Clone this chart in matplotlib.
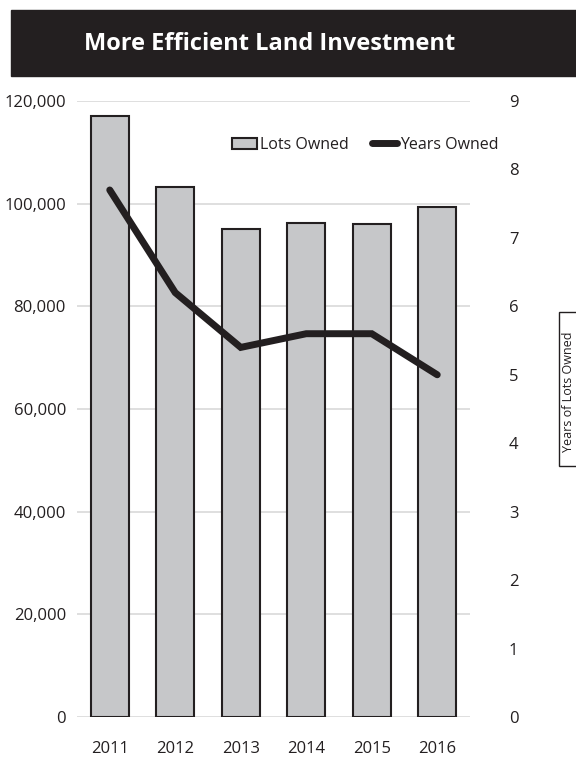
import matplotlib.pyplot as plt
from matplotlib.ticker import FuncFormatter, MultipleLocator
from matplotlib.patches import Rectangle

years = ["2011", "2012", "2013", "2014", "2015", "2016"]
lots_owned = [117000, 103200, 95000, 96200, 96000, 99300]
years_owned = [7.7, 6.2, 5.4, 5.6, 5.6, 5.0]

plt.rcParams["font.family"] = ["Open Sans", "DejaVu Sans"]
text_color = "#231f20"
W, H = 576, 765

fig = plt.figure(figsize=(5.76, 7.65), dpi=100)

# title banner
fig.patches.append(Rectangle((11 / W, 1 - 76 / H), 1, 66 / H,
                             transform=fig.transFigure, color="#231f20", zorder=0))
fig.text(270 / W, 1 - 44 / H, "More Efficient Land Investment", color="white",
         fontsize=17, fontweight="bold", ha="center", va="center")

ax = fig.add_axes([77 / W, 1 - 717 / H, 393 / W, 616 / H])
x = range(len(years))
bars = ax.bar(x, lots_owned, width=0.58, color="#c6c7c9", edgecolor="#231f20",
              linewidth=1.5, label="Lots Owned", zorder=2)
ax.set_xlim(-0.5, len(years) - 0.5)
ax.set_ylim(0, 120000)
ax.yaxis.set_major_locator(MultipleLocator(20000))
ax.yaxis.set_major_formatter(FuncFormatter(lambda v, p: f"{v:,.0f}"))
ax.set_xticks(list(x))
ax.set_xticklabels(years)
ax.grid(axis="y", color="#d9d9d9", linewidth=1.2, zorder=0)
ax.set_axisbelow(True)
for s in ax.spines.values():
    s.set_visible(False)
ax.tick_params(length=0, labelsize=12, colors=text_color, pad=17)
ax.tick_params(axis="y", pad=8)

ax2 = ax.twinx()
line, = ax2.plot(x, years_owned, color="#231f20", linewidth=5,
                 solid_capstyle="round", solid_joinstyle="miter", label="Years Owned")
ax2.set_ylim(0, 9)
ax2.yaxis.set_major_locator(MultipleLocator(1))
for s in ax2.spines.values():
    s.set_visible(False)
ax2.tick_params(length=0, labelsize=12, colors=text_color, pad=28)

ax2.legend([bars, line], ["Lots Owned", "Years Owned"], ncol=2, frameon=False,
           loc="upper right", bbox_to_anchor=(1.11, 0.965), fontsize=11.5,
           handlelength=1.6, handletextpad=0.2, columnspacing=1.4,
           labelcolor=text_color)

# boxed label running off the right edge
fig.patches.append(Rectangle((559 / W, 1 - 466 / H), 30 / W, 154 / H,
                             transform=fig.transFigure, facecolor="white",
                             edgecolor="#231f20", linewidth=1, zorder=1))
fig.text(569 / W, 1 - 392 / H, "Years of Lots Owned", rotation=90,
         ha="center", va="center", fontsize=9, color=text_color, zorder=2)

fig.savefig("out.png", dpi=100)
